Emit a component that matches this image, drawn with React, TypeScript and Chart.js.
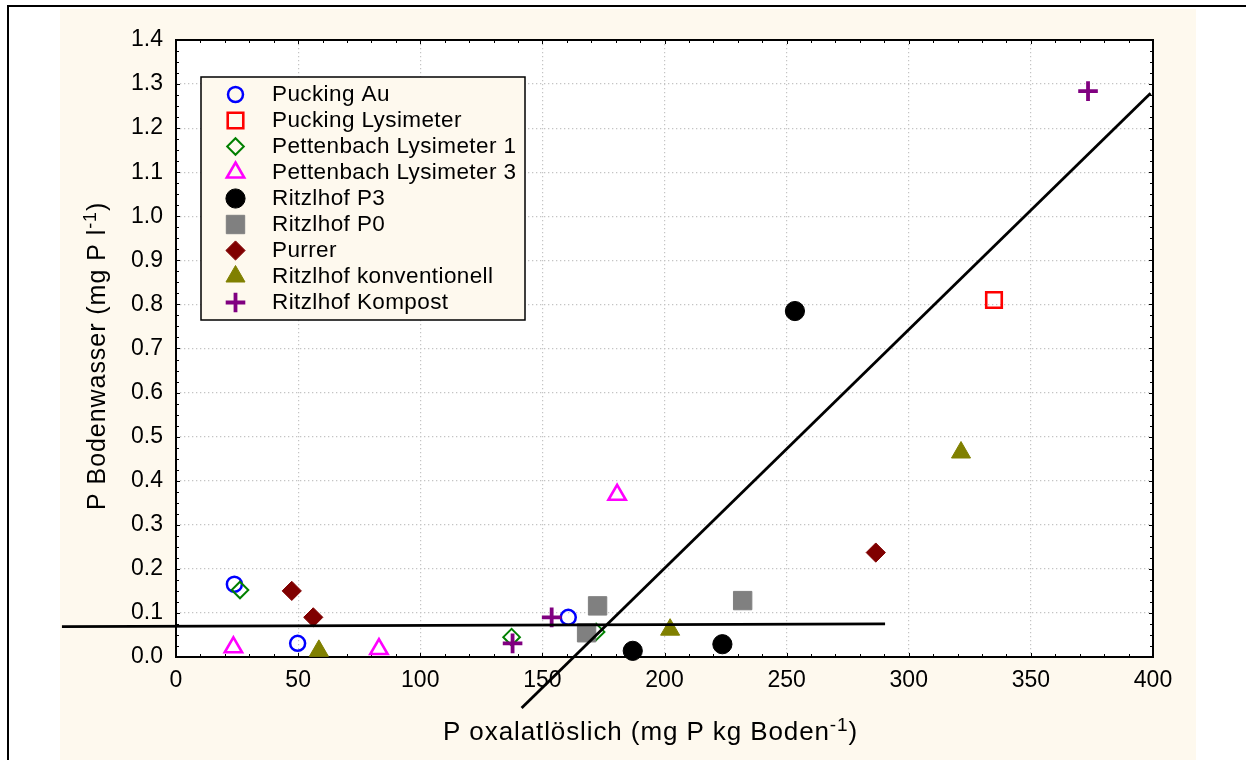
import React, { useEffect, useRef } from 'react';
import { Chart, registerables } from 'chart.js';
import { drawPoint } from 'chart.js/helpers';

Chart.register(...registerables);

// P oxalatlöslich (mg P kg Boden^-1) vs. P Bodenwasser (mg P l^-1), one array per site
const seriesNames = [
  'Pucking Au',
  'Pucking Lysimeter',
  'Pettenbach Lysimeter 1',
  'Pettenbach Lysimeter 3',
  'Ritzlhof P3',
  'Ritzlhof P0',
  'Purrer',
  'Ritzlhof konventionell',
  'Ritzlhof Kompost',
];

const puckingAu = [[23.9, 0.165], [49.8, 0.031], [160.6, 0.09]];
const puckingLysimeter = [[334.9, 0.81]];
const pettenbach1 = [[26.2, 0.152], [137.4, 0.045], [172.0, 0.057]];
const pettenbach3 = [[23.5, 0.022], [83.1, 0.018], [180.6, 0.368]];
const ritzlhofP3 = [[187.0, 0.014], [223.7, 0.029], [253.4, 0.785]];
const ritzlhofP0 = [[168.1, 0.055], [172.6, 0.116], [232.0, 0.128]];
const purrer = [[47.4, 0.15], [56.2, 0.09], [286.5, 0.237]];
const ritzlhofKonv = [[58.5, 0.014], [202.3, 0.062], [321.4, 0.464]];
const ritzlhofKompost = [[137.8, 0.031], [153.8, 0.09], [373.4, 1.284]];

const seriesData = [
  puckingAu,
  puckingLysimeter,
  pettenbach1,
  pettenbach3,
  ritzlhofP3,
  ritzlhofP0,
  purrer,
  ritzlhofKonv,
  ritzlhofKompost,
];

// fitted lines (end points)
const fitLow = [[-46.7, 0.069], [290.3, 0.075]];
const fitHigh = [[141.5, -0.116], [399.0, 1.279]];

// axis ranges and tick steps
const xRange = [0, 400];
const yRange = [0, 1.4];
const xStep = 50;
const yStep = 0.1;
const xMinorStep = 10;
const yMinorStep = 0.025;

const W = 1246;
const H = 760;
const CREAM = '#fef9ee';
const FONT = '"Liberation Sans", Arial, sans-serif';

type Marker = {
  pointStyle: any;
  radius: number;
  borderWidth: number;
  color: string;
  open: boolean;
};

const markers: Marker[] = [
  { pointStyle: 'circle', radius: 7.5, borderWidth: 2.5, color: '#0000ff', open: true },
  { pointStyle: 'rect', radius: 11, borderWidth: 2.6, color: '#ff0000', open: true },
  { pointStyle: 'rectRot', radius: 8.3, borderWidth: 2, color: '#008000', open: true },
  { pointStyle: 'triangle', radius: 10, borderWidth: 2.6, color: '#ff00ff', open: true },
  { pointStyle: 'circle', radius: 9.6, borderWidth: 1, color: '#000000', open: false },
  { pointStyle: 'rect', radius: 13, borderWidth: 1, color: '#808080', open: false },
  { pointStyle: 'rectRot', radius: 9.6, borderWidth: 1, color: '#800000', open: false },
  { pointStyle: 'triangle', radius: 11, borderWidth: 1, color: '#808000', open: false },
  { pointStyle: 'cross', radius: 9.8, borderWidth: 3.8, color: '#800080', open: false },
];

const toXY = (arr: number[][]) => arr.map(([x, y]) => ({ x, y }));

function drawTitle(
  ctx: CanvasRenderingContext2D,
  main: string,
  sup: string,
  tail: string,
  x: number,
  y: number,
  size: number,
  supSize: number,
  rise: number,
  spacing: number
) {
  ctx.textAlign = 'left';
  ctx.textBaseline = 'alphabetic';
  (ctx as any).letterSpacing = spacing + 'px';
  ctx.font = `${size}px ${FONT}`;
  ctx.fillText(main, x, y);
  let cx = x + ctx.measureText(main).width;
  ctx.font = `${supSize}px ${FONT}`;
  ctx.fillText(sup, cx, y - rise);
  cx += ctx.measureText(sup).width;
  ctx.font = `${size}px ${FONT}`;
  ctx.fillText(tail, cx, y);
}

const backgroundPlugin = {
  id: 'pageBackground',
  beforeDraw(chart: any) {
    const { ctx, chartArea } = chart;
    ctx.save();
    ctx.fillStyle = '#ffffff';
    ctx.fillRect(0, 0, W, H);
    ctx.fillStyle = CREAM;
    ctx.fillRect(60, 9, 1136, H - 9);
    ctx.fillStyle = '#000000';
    ctx.fillRect(7, 5, W - 7, 2);
    ctx.fillRect(7, 5, 2, H - 5);
    ctx.fillStyle = '#ffffff';
    ctx.fillRect(chartArea.left, chartArea.top, chartArea.right - chartArea.left, chartArea.bottom - chartArea.top);
    ctx.restore();
  },
};

const framePlugin = {
  id: 'plotFrame',
  beforeDatasetsDraw(chart: any) {
    const { ctx, chartArea, scales } = chart;
    const { left, top, right, bottom } = chartArea;
    const xs = scales.x;
    const ys = scales.y;
    ctx.save();
    ctx.strokeStyle = '#000000';
    ctx.lineWidth = 1;
    ctx.beginPath();
    const nx = Math.round((xRange[1] - xRange[0]) / xMinorStep);
    for (let i = 0; i <= nx; i++) {
      const v = xRange[0] + i * xMinorStep;
      const px = Math.round(xs.getPixelForValue(v)) + 0.5;
      const len = i % Math.round(xStep / xMinorStep) === 0 ? 4 : 3;
      ctx.moveTo(px, bottom);
      ctx.lineTo(px, bottom - len);
      ctx.moveTo(px, top);
      ctx.lineTo(px, top + len);
    }
    const ny = Math.round((yRange[1] - yRange[0]) / yMinorStep);
    for (let i = 0; i <= ny; i++) {
      const v = yRange[0] + i * yMinorStep;
      const py = Math.round(ys.getPixelForValue(v)) + 0.5;
      const len = i % Math.round(yStep / yMinorStep) === 0 ? 4 : 3;
      ctx.moveTo(left, py);
      ctx.lineTo(left + len, py);
      ctx.moveTo(right, py);
      ctx.lineTo(right - len, py);
    }
    ctx.stroke();
    ctx.lineWidth = 2;
    ctx.strokeRect(left, top, right - left, bottom - top);
    ctx.restore();
  },
};

const legendPlugin = {
  id: 'boxLegend',
  afterDatasetsDraw(chart: any) {
    const { ctx } = chart;
    ctx.save();
    ctx.fillStyle = CREAM;
    ctx.fillRect(201, 77, 324, 243);
    ctx.strokeStyle = '#000000';
    ctx.lineWidth = 1.5;
    ctx.strokeRect(201, 77, 324, 243);
    seriesNames.forEach((name, i) => {
      const m = markers[i];
      const cy = 94.5 + i * 26;
      ctx.save();
      ctx.fillStyle = m.open ? 'rgba(0,0,0,0)' : m.color;
      ctx.strokeStyle = m.color;
      ctx.lineWidth = m.borderWidth;
      drawPoint(ctx, { pointStyle: m.pointStyle, radius: m.radius, borderWidth: m.borderWidth, rotation: 0 } as any, 235.5, cy);
      ctx.restore();
      ctx.fillStyle = '#000000';
      ctx.font = `22.5px ${FONT}`;
      (ctx as any).letterSpacing = '0.4px';
      ctx.textAlign = 'left';
      ctx.textBaseline = 'middle';
      ctx.fillText(name, 272, cy + 0.5);
    });
    ctx.restore();
  },
};

const titlePlugin = {
  id: 'axisTitles',
  afterDraw(chart: any) {
    const { ctx } = chart;
    ctx.save();
    ctx.fillStyle = '#000000';
    drawTitle(ctx, 'P oxalatlöslich (mg P kg Boden', '-1', ')', 443, 740, 26, 19, 9, 0.9);
    ctx.translate(105, 510);
    ctx.rotate(-Math.PI / 2);
    drawTitle(ctx, 'P Bodenwasser (mg P l', '-1', ')', 0, 0, 25, 18, 9, 0.95);
    ctx.restore();
  },
};

export default function App() {
  const canvasRef = useRef<HTMLCanvasElement | null>(null);

  useEffect(() => {
    const canvas = canvasRef.current;
    if (!canvas) return;

    const pointSets = seriesData.map((arr, i) => {
      const m = markers[i];
      return {
        type: 'scatter' as const,
        label: seriesNames[i],
        data: toXY(arr),
        showLine: false,
        pointStyle: m.pointStyle,
        pointRadius: m.radius,
        pointHoverRadius: m.radius,
        pointBorderWidth: m.borderWidth,
        pointHoverBorderWidth: m.borderWidth,
        pointBorderColor: m.color,
        pointBackgroundColor: m.open ? 'rgba(0,0,0,0)' : m.color,
        order: 100 - i,
        clip: false as const,
      };
    });

    const lineSets = [fitLow, fitHigh].map((arr, i) => ({
      type: 'scatter' as const,
      label: 'fit' + i,
      data: toXY(arr),
      showLine: true,
      borderColor: '#000000',
      borderWidth: 2.8,
      pointRadius: 0,
      pointHoverRadius: 0,
      order: 0,
      clip: false as const,
    }));

    const tickFont = { family: FONT, size: 23 };

    const chart = new Chart(canvas, {
      type: 'scatter',
      data: { datasets: [...lineSets, ...pointSets] as any },
      options: {
        animation: false,
        responsive: false,
        devicePixelRatio: 1,
        events: [],
        layout: { padding: { left: 0, top: 40, right: W - 1153, bottom: 0 } },
        plugins: {
          legend: { display: false },
          tooltip: { enabled: false },
        },
        scales: {
          x: {
            type: 'linear',
            min: xRange[0],
            max: xRange[1],
            ticks: {
              stepSize: xStep,
              font: tickFont,
              color: '#000000',
              padding: 10,
              maxRotation: 0,
              autoSkip: false,
            },
            grid: { color: '#c4c4c4', drawTicks: false, lineWidth: 1.2 },
            border: { display: false, dash: [1.3, 2.7] },
            afterFit: (s: any) => {
              s.height = H - 657;
            },
          },
          y: {
            type: 'linear',
            min: yRange[0],
            max: yRange[1],
            ticks: {
              stepSize: yStep,
              font: tickFont,
              color: '#000000',
              padding: 13,
              autoSkip: false,
              callback: (v: any) => Number(v).toFixed(1),
            },
            grid: { color: '#c4c4c4', drawTicks: false, lineWidth: 1.2 },
            border: { display: false, dash: [1.3, 2.7] },
            afterFit: (s: any) => {
              s.width = 176;
            },
          },
        },
      },
      plugins: [backgroundPlugin, framePlugin, legendPlugin, titlePlugin],
    });

    return () => {
      chart.destroy();
    };
  }, []);

  return (
    <div style={{ position: 'absolute', left: 0, top: 0, width: W, height: H, overflow: 'hidden' }}>
      <canvas ref={canvasRef} width={W} height={H} style={{ display: 'block', width: W, height: H }} />
    </div>
  );
}
